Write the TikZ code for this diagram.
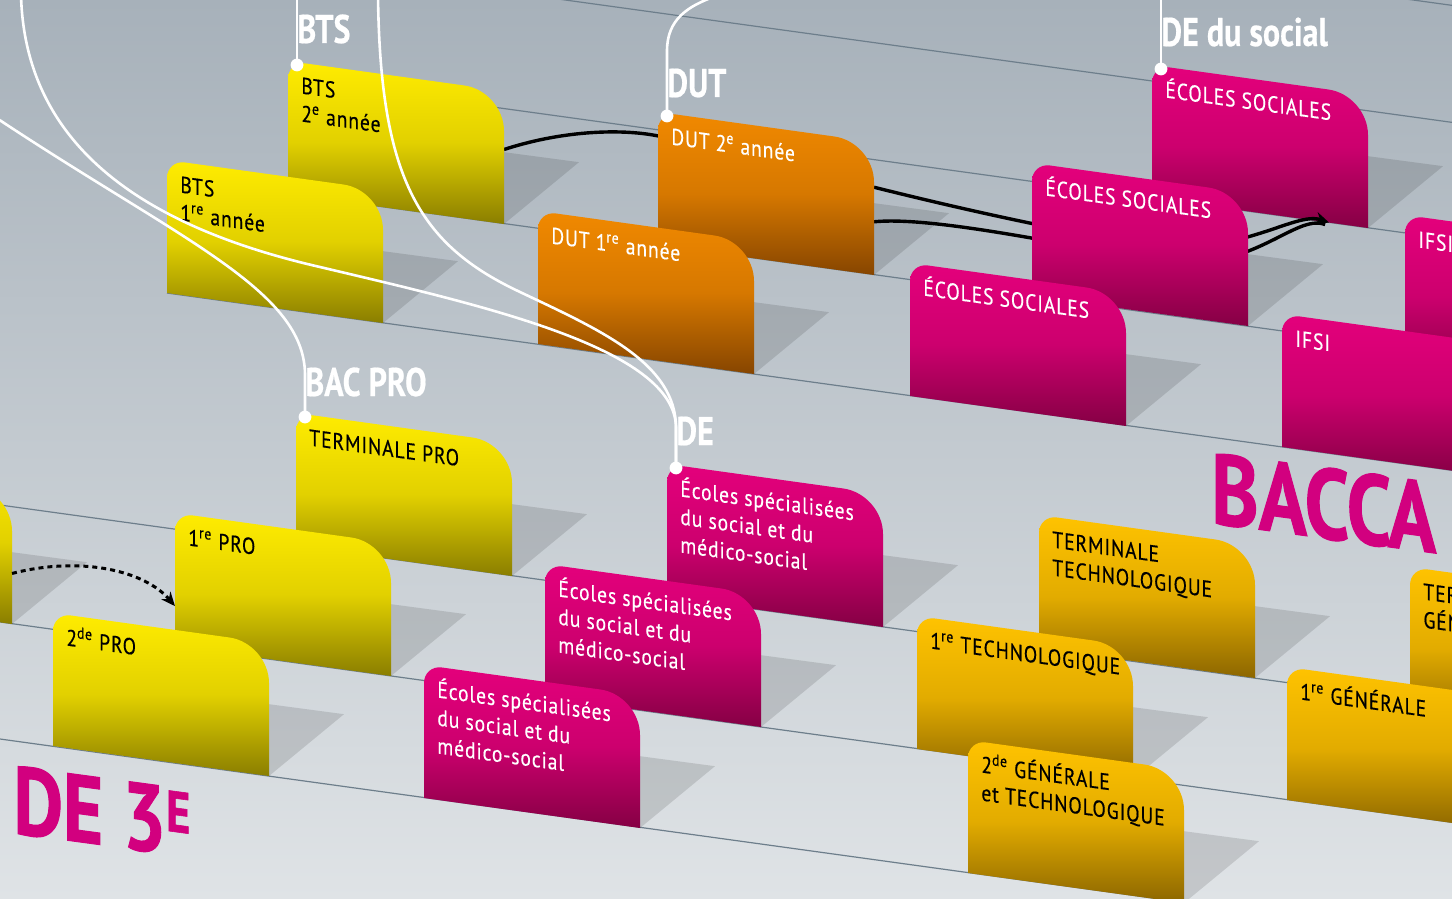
\documentclass[tikz,border=0pt]{standalone}
\usepackage{fontspec}
\setmainfont{PT Sans}
\newfontfamily\cardfont{PT Sans}[FakeStretch=0.85,LetterSpace=4,FakeBold=0.4]
\newfontfamily\headfont{PT Sans}[FakeStretch=0.8,FakeBold=0.5]
\newfontfamily\heavyfont{PT Sans}[FakeStretch=0.8,FakeBold=1]
\usetikzlibrary{positioning,calc,arrows.meta}
\tikzset{>={Stealth[length=7pt,width=6pt]}}

\definecolor{bgtop}{HTML}{A7B1BA}
\definecolor{bgbot}{HTML}{DFE3E6}
\definecolor{stepcol}{HTML}{6D7E8B}
\definecolor{yelA}{HTML}{FFEC00}
\definecolor{yelB}{HTML}{8A7E00}
\definecolor{ambA}{HTML}{FFC300}
\definecolor{ambB}{HTML}{8C6600}
\definecolor{orA}{HTML}{F18900}
\definecolor{orB}{HTML}{864500}
\definecolor{magA}{HTML}{E4007C}
\definecolor{magB}{HTML}{850044}
\definecolor{bigmag}{HTML}{D2007F}

\tikzset{
  stepline/.style={draw=stepcol,line width=0.6pt},
  shadowfill/.style={fill=black,opacity=0.12},
  yellowcard/.style={top color=yelA,bottom color=yelB,middle color=yelA!75!yelB},
  ambercard/.style={top color=ambA,bottom color=ambB,middle color=ambA!75!ambB},
  orangecard/.style={top color=orA,bottom color=orB,middle color=orA!75!orB},
  magentacard/.style={top color=magA,bottom color=magB,middle color=magA!75!magB},
  cardtext/.style={anchor=north west,inner sep=0pt,align=left,yslant=-0.138,
    font=\cardfont\fontsize{11.5}{14}\selectfont},
  darktext/.style={text=black},
  lighttext/.style={text=white},
  flow/.style={line width=1.7pt,black},
  pinline/.style={white,line width=1.3pt},
  headlabel/.style={anchor=base west,inner sep=0pt,text=white,
    font=\headfont\bfseries\fontsize{20}{20}\selectfont},
  bigword/.style={anchor=base west,inner sep=0pt,text=bigmag,yslant=-0.135,
    font=\heavyfont\bfseries\fontsize{#1}{#1}\selectfont}
}

\newcommand{\spot}[3]{%
  \coordinate (#1-tl) at (#2,#3);
  \coordinate (#1-tr) at ({#2+216},{#3+30});
  \coordinate (#1-bl) at (#2,{#3+133});
  \coordinate (#1-br) at ({#2+216},{#3+163});
  \coordinate (#1-pin) at ({#2+9},{#3+4});}
\newcommand{\card}[4]{%
  \fill[shadowfill] ($(#1-tr)!.46!(#1-br)$) -- ++(75,10) -- (#1-br) -- cycle;
  \shade[#2] (#1-bl) [rounded corners=9pt] -- (#1-tl) [rounded corners=20pt] -- (#1-tr)
    [sharp corners] -- (#1-br) -- cycle;
  \node[cardtext,#3] (#1) at ($(#1-tl)+(13,12)$) {\vphantom{É}#4};}

\begin{document}
\begin{tikzpicture}[x=0.5pt,y=-0.5pt]
\useasboundingbox (0,0) rectangle (1452,899);
\clip (0,0) rectangle (1452,899);
\shade[top color=bgtop,bottom color=bgbot] (0,0) rectangle (1452,899);
\foreach \x/\r in {651/-195,530/-78,409/39,288/154,167/270,0/505,0/622,0/739}
  \draw[stepline] (\x,{\r+0.138*\x}) -- (1460,{\r+0.138*1460});

\node[bigword=50] (bacca) at (1211,523) {BACCA};
\node[bigword=48] (troisieme) at (13,833) {DE 3\raisebox{11.5pt}{\fontsize{29}{29}\selectfont E}};

\foreach \n/\x/\y in {ecolesA/1152/65,
    bts2/288/61,dut2/658/112,ecolesB/1032/163,ifsiA/1405/215,
    bts1/167/160,dut1/538/211,ecolesC/910/263,ifsiB/1282/314,
    termpro/296/413,specA/667/464,termtech/1039/515,termgen/1410/567,
    proprev/-204/461,pro1/175/513,specB/545/564,tech1/917/616,gen1/1287/667,
    pro2/53/613,specC/424/665,gen2/968/740}
  {\spot{\n}{\x}{\y}}

\card{ecolesA}{magentacard}{lighttext}{ÉCOLES SOCIALES}

\coordinate (ecolesA-in) at ($(ecolesA-bl)!.82!(ecolesA-br)$);
\draw[flow] ($(bts2-tr)!.44!(bts2-br)$) .. controls +(55,-18) and +(-40,-8) .. ($(dut2-tl)!.18!(dut2-bl)$);
\draw[flow,->] ($(dut2-tr)!.34!(dut2-br)$) .. controls +(80,20) and +(-100,-18) .. ($(ecolesB-tl)!.5!(ecolesB-br)$)
  .. controls +(100,14) and +(-35,-12) .. (ecolesA-in);
\draw[flow] ($(dut2-tr)!.6!(dut2-br)$) .. controls +(60,-6) and +(-90,-14) .. ($(ecolesB-tl)!.6!(ecolesB-br)$)
  .. controls +(90,14) and +(-30,-12) .. ($(ecolesA-in)+(-4,2)$);

\card{bts2}{yellowcard}{darktext}{BTS\\2\textsuperscript{e} année}
\card{dut2}{orangecard}{lighttext}{DUT 2\textsuperscript{e} année}
\card{ecolesB}{magentacard}{lighttext}{ÉCOLES SOCIALES}
\card{ifsiA}{magentacard}{lighttext}{IFSI}

\card{bts1}{yellowcard}{darktext}{BTS\\1\textsuperscript{re} année}
\card{dut1}{orangecard}{lighttext}{DUT 1\textsuperscript{re} année}
\card{ecolesC}{magentacard}{lighttext}{ÉCOLES SOCIALES}
\card{ifsiB}{magentacard}{lighttext}{IFSI}

\card{termpro}{yellowcard}{darktext}{TERMINALE PRO}
\card{specA}{magentacard}{lighttext}{Écoles spécialisées\\du social et du\\médico-social}
\card{termtech}{ambercard}{darktext}{TERMINALE\\TECHNOLOGIQUE}
\card{termgen}{ambercard}{darktext}{TERMINALE\\GÉNÉRALE}

\card{proprev}{yellowcard}{darktext}{}
\card{pro1}{yellowcard}{darktext}{1\textsuperscript{re} PRO}
\card{specB}{magentacard}{lighttext}{Écoles spécialisées\\du social et du\\médico-social}
\card{tech1}{ambercard}{darktext}{1\textsuperscript{re} TECHNOLOGIQUE}
\card{gen1}{ambercard}{darktext}{1\textsuperscript{re} GÉNÉRALE}

\card{pro2}{yellowcard}{darktext}{2\textsuperscript{de} PRO}
\card{specC}{magentacard}{lighttext}{Écoles spécialisées\\du social et du\\médico-social}
\card{gen2}{ambercard}{darktext}{2\textsuperscript{de} GÉNÉRALE\\et TECHNOLOGIQUE}

\draw[flow,line width=1.5pt,dash pattern=on 2.5pt off 2pt,->] ($(proprev-tr)!.62!(proprev-br)$)
  .. controls +(70,-18) and +(-30,-35) .. ($(pro1-tl)!.7!(pro1-bl)$);

\coordinate (upper) at (0,-5);
\coordinate (dutend) at (716,-4);
\coordinate (bacend) at (-5,117);
\coordinate (deendA) at (21,-5);
\coordinate (deendB) at (378,-5);
\draw[pinline] (bts2-pin) -- (bts2-pin |- upper);
\draw[pinline] (ecolesA-pin) -- (ecolesA-pin |- upper);
\draw[pinline] (dut2-pin) -- ++(0,-65) .. controls +(0,-32) and +(-28,10) .. (dutend);
\draw[pinline] (termpro-pin) -- ++(0,-42) .. controls +(0,-85) and +(185,123) .. (bacend);
\draw[pinline] (specA-pin) -- ++(0,-40) .. controls +(0,-80) and +(160,38) .. (320,267)
  .. controls +(-170,-39) and +(4,155) .. (deendA);
\draw[pinline] (specA-pin) -- ++(0,-40) .. controls +(0,-65) and +(80,38) .. (520,292)
  .. controls +(-100,-47) and +(2,185) .. (deendB);
\foreach \p in {bts2,dut2,ecolesA,termpro,specA}
  \fill[white] (\p-pin) circle[radius=3.2pt];

\node[headlabel] (btsname) at ($(bts2-pin)+(0,-22)$) {BTS};
\node[headlabel] (dutname) at ($(dut2-pin)+(0,-19)$) {DUT};
\node[headlabel] (socialname) at ($(ecolesA-pin)+(0,-23)$) {DE du social};
\node[headlabel] (bacproname) at ($(termpro-pin)+(0,-21)$) {BAC PRO};
\node[headlabel] (dename) at ($(specA-pin)+(0,-23)$) {DE};
\end{tikzpicture}
\end{document}
